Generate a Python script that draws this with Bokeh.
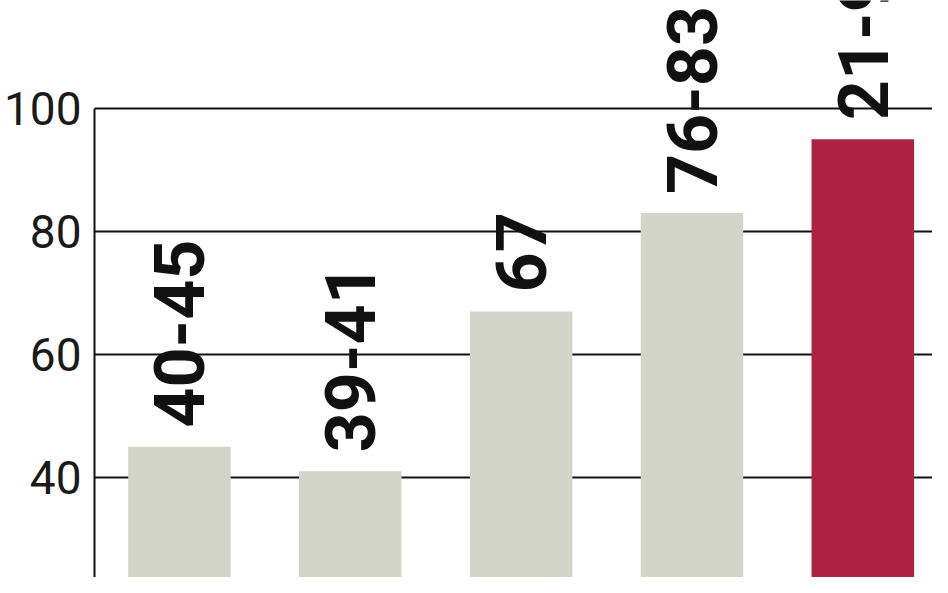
import numpy as np
from bokeh.plotting import figure
from bokeh.models import ColumnDataSource, Range1d, FixedTicker
from bokeh.core.properties import value
from bokeh.embed import file_html
from bokeh.resources import INLINE

# data
labels = ["40-45", "39-41", "67", "76-83", "21-95"]
values = [45, 41, 67, 83, 95]
colors = ["#d4d5ca", "#d4d5ca", "#d4d5ca", "#d4d5ca", "#ad2343"]
y_ticks = [20, 40, 60, 80, 100]

xs = np.arange(len(values))
src = ColumnDataSource(dict(x=xs, top=values, label=labels, color=colors))

p = figure(width=932, height=577, output_backend="svg", toolbar_location=None,
           x_range=Range1d(-0.497, 4.408), y_range=Range1d(23.74, 117.56),
           x_axis_location=None, min_border_left=87, min_border_right=0,
           min_border_top=0, min_border_bottom=0)
p.outline_line_color = None
p.background_fill_color = "white"
p.border_fill_color = "white"

p.xgrid.visible = False
p.yaxis.ticker = FixedTicker(ticks=y_ticks)
p.ygrid.grid_line_color = "#111111"
p.ygrid.grid_line_width = 2
p.yaxis.bounds = (0, 100)
p.yaxis.axis_line_color = "#111111"
p.yaxis.axis_line_width = 2
p.yaxis.major_tick_in = 0
p.yaxis.major_tick_out = 0
p.yaxis.minor_tick_line_color = None
p.yaxis.major_label_standoff = 13
p.yaxis.major_label_text_font = "Roboto"
p.yaxis.major_label_text_font_size = "46px"
p.yaxis.major_label_text_color = "#1a1a1a"

p.vbar(x="x", top="top", bottom=0, width=0.6, color="color", line_color=None, source=src)

p.text(x="x", y="top", text="label", source=src, angle=np.pi / 2,
       text_align="left", text_baseline="middle", y_offset=-19,
       text_font=value("Roboto"), text_font_style="bold",
       text_font_size="70px", text_color="#111111")

open("out.html", "w").write(file_html(p, INLINE))
